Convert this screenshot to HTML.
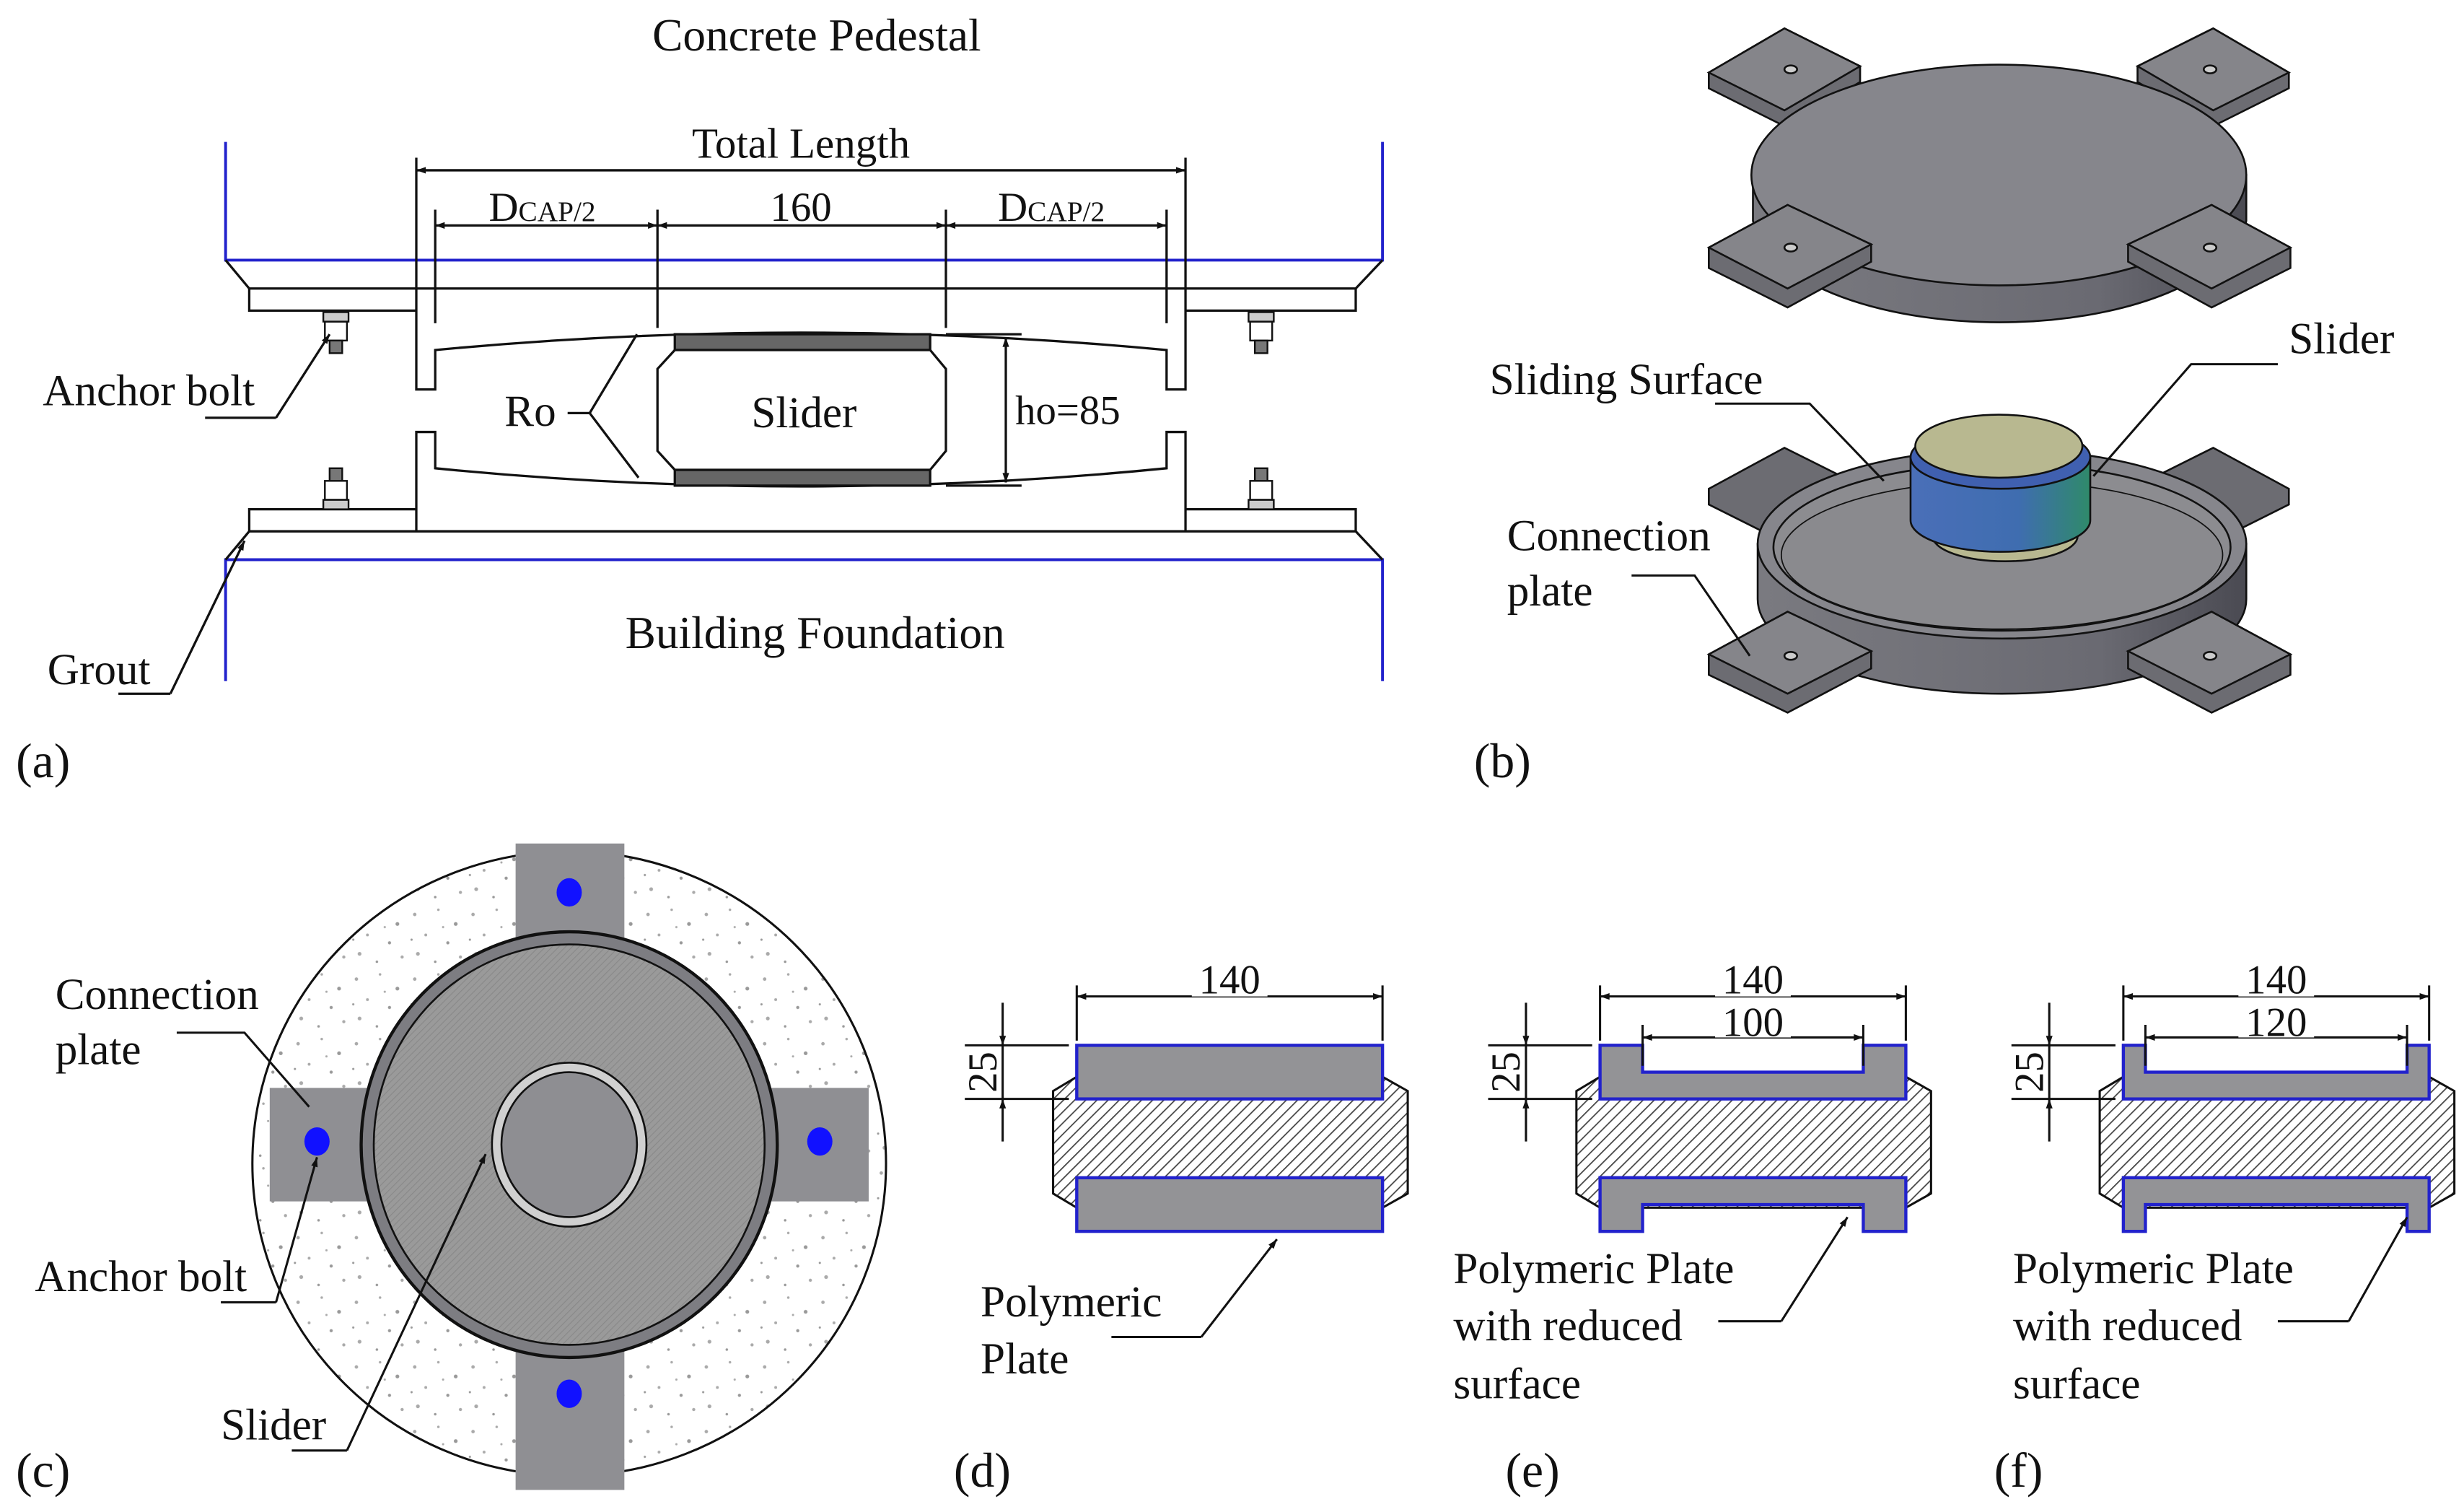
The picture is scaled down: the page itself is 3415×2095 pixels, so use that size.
<!DOCTYPE html>
<html><head><meta charset="utf-8"><style>
html,body{margin:0;padding:0;background:#fff;}
svg{display:block;}
text{font-family:"Liberation Serif",serif;fill:#111;}
</style></head><body>
<svg width="3415" height="2095" viewBox="0 0 1563 959" xmlns="http://www.w3.org/2000/svg">
<defs>
<marker id="ar" viewBox="0 0 10 10" refX="10" refY="5" markerWidth="9" markerHeight="6" orient="auto-start-reverse" markerUnits="userSpaceOnUse"><path d="M0,1.5 L10,5 L0,8.5z" fill="#111"/></marker>
<pattern id="hatch" width="5" height="5" patternUnits="userSpaceOnUse" patternTransform="rotate(45)"><rect width="5" height="5" fill="#fff"/><line x1="0" y1="0" x2="0" y2="5" stroke="#444" stroke-width="1.6"/></pattern>
<pattern id="fine" width="3" height="3" patternUnits="userSpaceOnUse" patternTransform="rotate(45)"><rect width="3" height="3" fill="#9a9a9a"/><line x1="0" y1="0" x2="0" y2="3" stroke="#888" stroke-width="1"/></pattern>
<pattern id="speck" width="37" height="41" patternUnits="userSpaceOnUse"><rect width="37" height="41" fill="#fff"/>
<circle cx="4" cy="6" r="1.1" fill="#aaa"/><circle cx="19" cy="3" r="0.8" fill="#aaa"/><circle cx="30" cy="12" r="1.2" fill="#999"/><circle cx="11" cy="19" r="0.9" fill="#aaa"/><circle cx="25" cy="24" r="1" fill="#999"/><circle cx="6" cy="31" r="1.2" fill="#aaa"/><circle cx="17" cy="36" r="0.8" fill="#999"/><circle cx="33" cy="33" r="1" fill="#aaa"/><circle cx="22" cy="14" r="0.7" fill="#aaa"/><circle cx="2" cy="22" r="0.7" fill="#999"/></pattern>
<linearGradient id="sl" x1="0" x2="1"><stop offset="0" stop-color="#4a6fb8"/><stop offset="0.6" stop-color="#3f6db0"/><stop offset="1" stop-color="#2f8a6a"/></linearGradient>
<linearGradient id="side" x1="0" x2="1"><stop offset="0" stop-color="#7a7a80"/><stop offset="0.7" stop-color="#6a6a72"/><stop offset="1" stop-color="#4a4a52"/></linearGradient>
</defs>

<!-- ============ (a) ============ -->
<g stroke="#111" stroke-width="1.5" fill="none">
<text x="518" y="32" font-size="29" text-anchor="middle" stroke="none">Concrete Pedestal</text>
<path d="M143,90 V165 H877 V90" stroke="#22c" stroke-width="1.8"/>
<path d="M143,432 V355 H877 V432" stroke="#22c" stroke-width="1.8"/>
<path d="M143,165 L158,183 H860 L877,165"/>
<path d="M158,183 V197 H264 M752,197 H860 V183"/>
<path d="M264,183 V247 H276 V222 Q508,200 740,222 V247 H752 V183"/>
<path d="M143,355 L158,337 H860 L877,355"/>
<path d="M158,337 V323 H264 M752,323 H860 V337"/>
<path d="M264,337 V274 H276 V297 Q508,320 740,297 V274 H752 V337"/>
<path d="M428,212 H590 V222 H428Z M428,298 H590 V308 H428Z" fill="#666"/>
<path d="M428,222 L417,234 V286 L428,298 H590 L600,286 V234 L590,222Z" fill="#fff"/>
<text x="510" y="271" font-size="28" text-anchor="middle" stroke="none">Slider</text>
<text x="320" y="270" font-size="28" stroke="none">Ro</text>
<path d="M360,262 H374 L404,212 M374,262 L405,303"/>
<path d="M600,212 H648 M600,308 H648"/>
<line x1="638" y1="214" x2="638" y2="306" marker-start="url(#ar)" marker-end="url(#ar)"/>
<text x="644" y="269" font-size="26" stroke="none">ho=85</text>
<path d="M264,100 V183 M752,100 V183 M276,133 V205 M740,133 V205 M417,133 V208 M600,133 V208"/>
<line x1="264" y1="108" x2="752" y2="108" marker-start="url(#ar)" marker-end="url(#ar)"/>
<text x="508" y="100" font-size="27" text-anchor="middle" stroke="none">Total Length</text>
<line x1="276" y1="143" x2="417" y2="143" marker-start="url(#ar)" marker-end="url(#ar)"/>
<line x1="417" y1="143" x2="600" y2="143" marker-start="url(#ar)" marker-end="url(#ar)"/>
<line x1="600" y1="143" x2="740" y2="143" marker-start="url(#ar)" marker-end="url(#ar)"/>
<rect x="470" y="120" width="76" height="22" fill="#fff" stroke="none"/>
<text x="508" y="140" font-size="26" text-anchor="middle" stroke="none">160</text>
<text x="310" y="140" font-size="26" stroke="none">D<tspan font-size="18">CAP/2</tspan></text>
<text x="633" y="140" font-size="26" stroke="none">D<tspan font-size="18">CAP/2</tspan></text>
<g stroke-width="1.1">
<rect x="205" y="198" width="16" height="6" fill="#ccc"/><rect x="206" y="204" width="14" height="12"/><rect x="209" y="216" width="8" height="8" fill="#777"/>
<rect x="792" y="198" width="16" height="6" fill="#ccc"/><rect x="793" y="204" width="14" height="12"/><rect x="796" y="216" width="8" height="8" fill="#777"/>
<rect x="205" y="317" width="16" height="6" fill="#ccc"/><rect x="206" y="305" width="14" height="12"/><rect x="209" y="297" width="8" height="8" fill="#777"/>
<rect x="792" y="317" width="16" height="6" fill="#ccc"/><rect x="793" y="305" width="14" height="12"/><rect x="796" y="297" width="8" height="8" fill="#777"/>
</g>
<text x="27" y="257" font-size="28" stroke="none">Anchor bolt</text>
<path d="M130,265 H175"/>
<line x1="175" y1="265" x2="209" y2="212" marker-end="url(#ar)"/>
<text x="30" y="434" font-size="28" stroke="none">Grout</text>
<path d="M75,440 H108"/>
<line x1="108" y1="440" x2="155" y2="343" marker-end="url(#ar)"/>
<text x="517" y="411" font-size="29" text-anchor="middle" stroke="none">Building Foundation</text>
<text x="10" y="493" font-size="31" stroke="none">(a)</text>
</g>

<!-- ============ (b) ============ -->
<g stroke="#111" stroke-width="1.2">
<path d="M1084,46 L1132,18 L1180,42 L1180,52 L1132,80 L1084,56Z" fill="#6c6c72"/>
<path d="M1084,46 L1132,18 L1180,42 L1132,70Z" fill="#85858a"/>
<path d="M1452,46 L1404,18 L1356,42 L1356,52 L1404,80 L1452,56Z" fill="#6c6c72"/>
<path d="M1452,46 L1404,18 L1356,42 L1404,70Z" fill="#85858a"/>
<path d="M1112,111 V140 A157,70 0 0 0 1425,140 V111Z" fill="url(#side)"/>
<ellipse cx="1268" cy="111" rx="157" ry="70" fill="#86868c"/>
<path d="M1084,157 L1134,130 L1187,155 L1187,166 L1134,195 L1084,170Z" fill="#6c6c72"/>
<path d="M1084,157 L1134,130 L1187,155 L1134,183Z" fill="#85858a"/>
<path d="M1453,157 L1403,130 L1350,155 L1350,166 L1403,195 L1453,170Z" fill="#6c6c72"/>
<path d="M1453,157 L1403,130 L1350,155 L1403,183Z" fill="#85858a"/>
<g fill="#ccc"><ellipse cx="1136" cy="44" rx="4" ry="2.5"/><ellipse cx="1402" cy="44" rx="4" ry="2.5"/><ellipse cx="1136" cy="157" rx="4" ry="2.5"/><ellipse cx="1402" cy="157" rx="4" ry="2.5"/></g>
<path d="M1084,310 L1132,284 L1180,308 L1180,318 L1132,344 L1084,320Z" fill="#6c6c72"/>
<path d="M1452,310 L1404,284 L1356,308 L1356,318 L1404,344 L1452,320Z" fill="#6c6c72"/>
<path d="M1115,345 V380 A155,60 0 0 0 1425,380 V345Z" fill="url(#side)"/>
<ellipse cx="1270" cy="345" rx="155" ry="60" fill="#86868c"/>
<ellipse cx="1270" cy="347" rx="145" ry="53" fill="#8c8c90"/>
<ellipse cx="1270" cy="352" rx="140" ry="47" fill="#8a8a8e" stroke-width="0.8"/>
<path d="M1084,415 L1134,388 L1187,413 L1187,424 L1134,452 L1084,428Z" fill="#6c6c72"/>
<path d="M1084,415 L1134,388 L1187,413 L1134,440Z" fill="#85858a"/>
<path d="M1453,415 L1403,388 L1350,413 L1350,424 L1403,452 L1453,428Z" fill="#6c6c72"/>
<path d="M1453,415 L1403,388 L1350,413 L1403,440Z" fill="#85858a"/>
<g fill="#ccc"><ellipse cx="1136" cy="416" rx="4" ry="2.5"/><ellipse cx="1402" cy="416" rx="4" ry="2.5"/></g>
<ellipse cx="1272" cy="340" rx="46" ry="16" fill="#b8b890"/>
<path d="M1212,290 V330 A57,20 0 0 0 1326,330 V290Z" fill="url(#sl)"/>
<ellipse cx="1269" cy="290" rx="57" ry="20" fill="#4060b0"/>
<ellipse cx="1268" cy="283" rx="53" ry="20" fill="#b8b890"/>
</g>
<g stroke="#111" stroke-width="1.4" fill="none">
<text x="1452" y="224" font-size="28" stroke="none">Slider</text>
<path d="M1445,231 H1390 L1328,302"/>
<text x="945" y="250" font-size="28" stroke="none">Sliding Surface</text>
<path d="M1088,256 H1148 L1195,305"/>
<text x="956" y="349" font-size="28" stroke="none">Connection</text>
<text x="956" y="384" font-size="28" stroke="none">plate</text>
<path d="M1035,365 H1075 L1110,416"/>
<text x="935" y="493" font-size="31" stroke="none">(b)</text>
</g>

<!-- ============ (c) ============ -->
<g stroke="#111" stroke-width="1.4">
<ellipse cx="361" cy="738" rx="201" ry="198" fill="url(#speck)"/>
<rect x="327" y="535" width="69" height="410" fill="#8f8f93" stroke="none"/>
<rect x="171" y="690" width="380" height="72" fill="#8f8f93" stroke="none"/>
<ellipse cx="361" cy="726" rx="132" ry="135" fill="#7d7d82" stroke-width="2"/>
<ellipse cx="361" cy="726" rx="124" ry="127" fill="url(#fine)" stroke-width="1.2"/>
<ellipse cx="361" cy="726" rx="49" ry="52" fill="#d0d0d0" stroke-width="1.2"/>
<ellipse cx="361" cy="726" rx="43" ry="46" fill="#8e8e92" stroke-width="1.2"/>
<g fill="#11f" stroke="none"><ellipse cx="361" cy="566" rx="8" ry="9"/><ellipse cx="201" cy="724" rx="8" ry="9"/><ellipse cx="520" cy="724" rx="8" ry="9"/><ellipse cx="361" cy="884" rx="8" ry="9"/></g>
</g>
<g stroke="#111" stroke-width="1.4" fill="none">
<text x="35" y="640" font-size="28" stroke="none">Connection</text>
<text x="35" y="675" font-size="28" stroke="none">plate</text>
<path d="M112,655 H155 L196,702"/>
<text x="22" y="819" font-size="28" stroke="none">Anchor bolt</text>
<path d="M140,826 H175"/>
<line x1="175" y1="826" x2="201" y2="734" marker-end="url(#ar)"/>
<text x="140" y="913" font-size="28" stroke="none">Slider</text>
<path d="M185,920 H220"/>
<line x1="220" y1="920" x2="308" y2="732" marker-end="url(#ar)"/>
<text x="10" y="943" font-size="31" stroke="none">(c)</text>
</g>

<!-- ============ (d),(e),(f) ============ -->
<g stroke="#111" stroke-width="1.4" fill="none">
<path d="M683,683 L668,692 V757 L683,766 H877 L893,757 V692 L877,683Z" fill="url(#hatch)"/>
<rect x="683" y="663" width="194" height="34" fill="#939396" stroke="#22c" stroke-width="2"/>
<rect x="683" y="747" width="194" height="34" fill="#939396" stroke="#22c" stroke-width="2"/>
<path d="M683,625 V660 M877,625 V660 M612,663 H678 M612,697 H678"/>
<line x1="683" y1="632" x2="877" y2="632" marker-start="url(#ar)" marker-end="url(#ar)"/>
<rect x="756" y="610" width="48" height="22" fill="#fff" stroke="none"/>
<text x="780" y="630" font-size="26" text-anchor="middle" stroke="none">140</text>
<line x1="636" y1="636" x2="636" y2="663" marker-end="url(#ar)"/>
<line x1="636" y1="724" x2="636" y2="697" marker-end="url(#ar)"/>
<line x1="636" y1="663" x2="636" y2="697"/>
<text transform="translate(632,680) rotate(-90)" font-size="26" text-anchor="middle" stroke="none">25</text>
<text x="622" y="835" font-size="28" stroke="none">Polymeric</text>
<text x="622" y="871" font-size="28" stroke="none">Plate</text>
<path d="M705,848 H762"/>
<line x1="762" y1="848" x2="810" y2="786" marker-end="url(#ar)"/>
<text x="605" y="943" font-size="31" stroke="none">(d)</text>

<path d="M1015,683 L1000,692 V757 L1015,766 H1209 L1225,757 V692 L1209,683Z" fill="url(#hatch)"/>
<path d="M1015,663 H1042 V680 H1182 V663 H1209 V697 H1015Z" fill="#939396" stroke="#22c" stroke-width="2"/>
<path d="M1015,781 H1042 V764 H1182 V781 H1209 V747 H1015Z" fill="#939396" stroke="#22c" stroke-width="2"/>
<path d="M1015,625 V660 M1209,625 V660 M1042,650 V676 M1182,650 V676 M944,663 H1010 M944,697 H1010"/>
<line x1="1015" y1="632" x2="1209" y2="632" marker-start="url(#ar)" marker-end="url(#ar)"/>
<line x1="1042" y1="658" x2="1182" y2="658" marker-start="url(#ar)" marker-end="url(#ar)"/>
<rect x="1088" y="610" width="48" height="22" fill="#fff" stroke="none"/>
<rect x="1088" y="638" width="48" height="20" fill="#fff" stroke="none"/>
<text x="1112" y="630" font-size="26" text-anchor="middle" stroke="none">140</text>
<text x="1112" y="657" font-size="26" text-anchor="middle" stroke="none">100</text>
<line x1="968" y1="636" x2="968" y2="663" marker-end="url(#ar)"/>
<line x1="968" y1="724" x2="968" y2="697" marker-end="url(#ar)"/>
<line x1="968" y1="663" x2="968" y2="697"/>
<text transform="translate(964,680) rotate(-90)" font-size="26" text-anchor="middle" stroke="none">25</text>
<text x="922" y="814" font-size="28" stroke="none">Polymeric Plate</text>
<text x="922" y="850" font-size="28" stroke="none">with reduced</text>
<text x="922" y="887" font-size="28" stroke="none">surface</text>
<path d="M1090,838 H1130"/>
<line x1="1130" y1="838" x2="1172" y2="772" marker-end="url(#ar)"/>
<text x="955" y="943" font-size="31" stroke="none">(e)</text>

<path d="M1347,683 L1332,692 V757 L1347,766 H1541 L1557,757 V692 L1541,683Z" fill="url(#hatch)"/>
<path d="M1347,663 H1361 V680 H1527 V663 H1541 V697 H1347Z" fill="#939396" stroke="#22c" stroke-width="2"/>
<path d="M1347,781 H1361 V764 H1527 V781 H1541 V747 H1347Z" fill="#939396" stroke="#22c" stroke-width="2"/>
<path d="M1347,625 V660 M1541,625 V660 M1361,650 V676 M1527,650 V676 M1276,663 H1342 M1276,697 H1342"/>
<line x1="1347" y1="632" x2="1541" y2="632" marker-start="url(#ar)" marker-end="url(#ar)"/>
<line x1="1361" y1="658" x2="1527" y2="658" marker-start="url(#ar)" marker-end="url(#ar)"/>
<rect x="1420" y="610" width="48" height="22" fill="#fff" stroke="none"/>
<rect x="1420" y="638" width="48" height="20" fill="#fff" stroke="none"/>
<text x="1444" y="630" font-size="26" text-anchor="middle" stroke="none">140</text>
<text x="1444" y="657" font-size="26" text-anchor="middle" stroke="none">120</text>
<line x1="1300" y1="636" x2="1300" y2="663" marker-end="url(#ar)"/>
<line x1="1300" y1="724" x2="1300" y2="697" marker-end="url(#ar)"/>
<line x1="1300" y1="663" x2="1300" y2="697"/>
<text transform="translate(1296,680) rotate(-90)" font-size="26" text-anchor="middle" stroke="none">25</text>
<text x="1277" y="814" font-size="28" stroke="none">Polymeric Plate</text>
<text x="1277" y="850" font-size="28" stroke="none">with reduced</text>
<text x="1277" y="887" font-size="28" stroke="none">surface</text>
<path d="M1445,838 H1490"/>
<line x1="1490" y1="838" x2="1527" y2="772" marker-end="url(#ar)"/>
<text x="1265" y="943" font-size="31" stroke="none">(f)</text>
</g>
</svg>
</body></html>
